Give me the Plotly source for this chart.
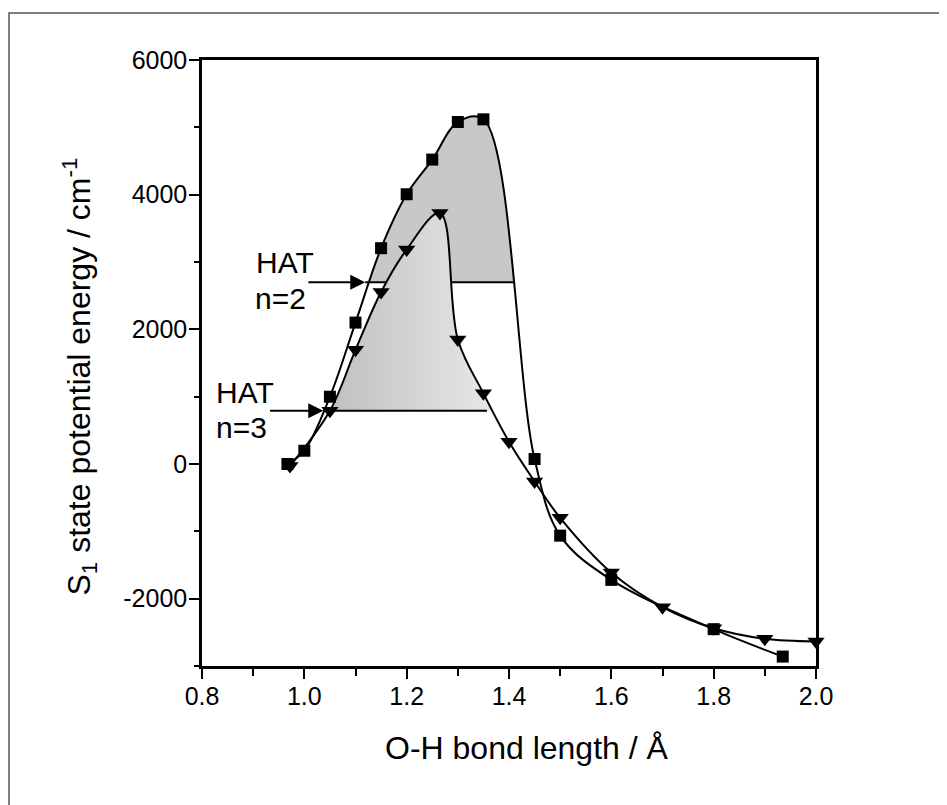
import plotly.graph_objects as go

# ---------------- data ----------------
sq_x = [0.967, 1.0, 1.05, 1.1, 1.15, 1.2, 1.25, 1.3, 1.35, 1.45, 1.5, 1.6, 1.8, 1.935]
sq_y = [0, 197, 999, 2100, 3205, 4006, 4521, 5079, 5119, 74, -1064, -1721, -2453, -2860]

tri_x = [0.972, 1.05, 1.1, 1.15, 1.2, 1.265, 1.3, 1.35, 1.4, 1.45, 1.5, 1.6, 1.7, 1.8, 1.9, 2.0]
tri_y = [-30, 790, 1695, 2555, 3185, 3728, 1850, 1049, 331, -260, -800, -1613, -2126, -2440, -2596, -2637]

# HAT levels (n=2, n=3)
hat_names = ["n=2", "n=3"]
hat_levels = [2700, 790]
hat_line_start = [1.119, 1.037]
hat_line_end = [1.409, 1.357]
hat_arrow_tail = [1.005, 0.930]

x_tickvals = [0.8, 1.0, 1.2, 1.4, 1.6, 1.8, 2.0]
x_ticktext = ["0.8", "1.0", "1.2", "1.4", "1.6", "1.8", "2.0"]
y_tickvals = [-2000, 0, 2000, 4000, 6000]
y_ticktext = ["-2000", "0", "2000", "4000", "6000"]

XR = [0.8, 2.0]
YR = [-3000, 6000]

FONT = "Arial, Liberation Sans, Helvetica, sans-serif"
SMOOTH = 1.0

fig = go.Figure()

# dark grey region under square curve (masked below the n=2 level)
fig.add_trace(go.Scatter(x=sq_x, y=sq_y, mode="lines", line=dict(width=0, shape="spline", smoothing=SMOOTH),
                         fill="tozeroy", fillcolor="#c8c8c8", hoverinfo="skip", showlegend=False))
fig.add_trace(go.Scatter(x=[XR[0] - 0.1, XR[1] + 0.1, XR[1] + 0.1, XR[0] - 0.1],
                         y=[YR[0] - 500, YR[0] - 500, hat_levels[0], hat_levels[0]],
                         mode="lines", line=dict(width=0), fill="toself", fillcolor="white",
                         hoverinfo="skip", showlegend=False))
# n=2 level line
fig.add_trace(go.Scatter(x=[hat_line_start[0], hat_line_end[0]], y=[hat_levels[0], hat_levels[0]],
                         mode="lines", line=dict(color="black", width=2), hoverinfo="skip", showlegend=False))
# light gradient region under triangle curve (masked below the n=3 level)
fig.add_trace(go.Scatter(x=tri_x, y=tri_y, mode="lines", line=dict(width=0, shape="spline", smoothing=SMOOTH),
                         fill="tozeroy",
                         fillgradient=dict(type="horizontal", start=1.05, stop=1.36,
                                           colorscale=[[0, "#c0c0c0"], [1, "#e6e6e6"]]),
                         hoverinfo="skip", showlegend=False))
fig.add_trace(go.Scatter(x=[XR[0] - 0.1, XR[1] + 0.1, XR[1] + 0.1, XR[0] - 0.1],
                         y=[YR[0] - 500, YR[0] - 500, hat_levels[1], hat_levels[1]],
                         mode="lines", line=dict(width=0), fill="toself", fillcolor="white",
                         hoverinfo="skip", showlegend=False))
# n=3 level line
fig.add_trace(go.Scatter(x=[hat_line_start[1], hat_line_end[1]], y=[hat_levels[1], hat_levels[1]],
                         mode="lines", line=dict(color="black", width=2), hoverinfo="skip", showlegend=False))

# curves
fig.add_trace(go.Scatter(x=sq_x, y=sq_y, mode="lines+markers",
                         line=dict(color="black", width=2, shape="spline", smoothing=SMOOTH),
                         marker=dict(symbol="square", size=12, color="black"),
                         cliponaxis=False, showlegend=False))
fig.add_trace(go.Scatter(x=tri_x, y=tri_y, mode="lines+markers",
                         line=dict(color="black", width=2, shape="spline", smoothing=SMOOTH),
                         marker=dict(symbol="triangle-down", size=15, color="black"),
                         cliponaxis=False, showlegend=False))

annotations = []
# arrows
for lvl, tip, tail in zip(hat_levels, hat_line_start, hat_arrow_tail):
    annotations.append(dict(x=tip, y=lvl, ax=tail, ay=lvl, xref="x", yref="y", axref="x", ayref="y",
                            text="", showarrow=True, arrowhead=2, arrowsize=1.5, arrowwidth=2,
                            arrowcolor="black", standoff=0))
# HAT labels
label_pos = [(0.902, 2990, 0.899, 2464), (0.823, 1055, 0.823, 536)]
for name, (hx, hy, nx, ny) in zip(hat_names, label_pos):
    annotations.append(dict(x=hx, y=hy, xref="x", yref="y", text="HAT", showarrow=False,
                            xanchor="left", yanchor="middle", font=dict(size=30, family=FONT, color="black")))
    annotations.append(dict(x=nx, y=ny, xref="x", yref="y", text=name, showarrow=False,
                            xanchor="left", yanchor="middle", font=dict(size=30, family=FONT, color="black")))
# axis titles
annotations.append(dict(x=0.5277, y=-0.1361, xref="paper", yref="paper", showarrow=False,
                        text="O-H bond length / Å", xanchor="center", yanchor="middle",
                        font=dict(size=32, family=FONT, color="black")))
annotations.append(dict(x=-0.2003, y=0.4777, xref="paper", yref="paper", showarrow=False, textangle=-90,
                        text="S<sub>1</sub> state potential energy / cm<sup>-1</sup>",
                        xanchor="center", yanchor="middle",
                        font=dict(size=32, family=FONT, color="black")))

fig.update_layout(
    width=939, height=797,
    margin=dict(l=194, r=131, t=52, b=139),
    paper_bgcolor="white", plot_bgcolor="white",
    font=dict(family=FONT, color="black"),
    annotations=annotations,
    shapes=[dict(type="rect", xref="paper", yref="paper", x0=-0.3143, x1=1.2052, y0=-0.25, y1=1.0776,
                 line=dict(color="#555555", width=1.5), fillcolor="rgba(0,0,0,0)", layer="below")],
    xaxis=dict(range=XR, tickvals=x_tickvals, ticktext=x_ticktext, ticks="outside", ticklen=10, tickwidth=2,
               tickcolor="black", minor=dict(dtick=0.1, tick0=0.8, ticks="outside", ticklen=7, tickwidth=2,
                                             tickcolor="black"),
               ticklabelstandoff=-4,
               showline=True, linewidth=2.5, linecolor="black", mirror=True, showgrid=False, zeroline=False,
               tickfont=dict(size=25, family=FONT, color="black")),
    yaxis=dict(range=YR, tickvals=y_tickvals, ticktext=y_ticktext, ticks="outside", ticklen=10, tickwidth=2,
               tickcolor="black", minor=dict(dtick=1000, tick0=0, ticks="outside", ticklen=5, tickwidth=2,
                                             tickcolor="black"),
               ticklabelstandoff=-3,
               showline=True, linewidth=2.5, linecolor="black", mirror=True, showgrid=False, zeroline=False,
               tickfont=dict(size=25, family=FONT, color="black")),
)

fig.write_html("out.html")
